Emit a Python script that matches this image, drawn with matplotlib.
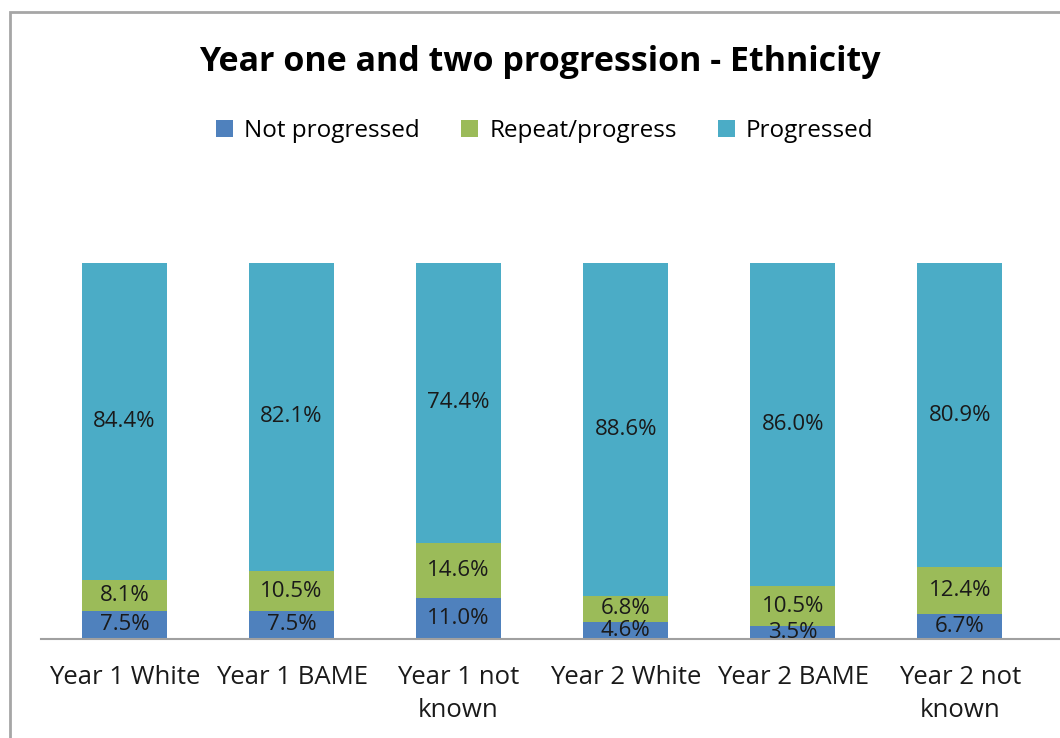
import matplotlib
matplotlib.use("Agg")
import matplotlib.pyplot as plt
from matplotlib.patches import Rectangle
import numpy as np

categories = ["Year 1 White", "Year 1 BAME", "Year 1 not\nknown",
              "Year 2 White", "Year 2 BAME", "Year 2 not\nknown"]
not_progressed = [7.5, 7.5, 11.0, 4.6, 3.5, 6.7]
repeat_progress = [8.1, 10.5, 14.6, 6.8, 10.5, 12.4]
progressed = [84.4, 82.1, 74.4, 88.6, 86.0, 80.9]

series = [
    ("Not progressed", not_progressed, "#4F81BD"),
    ("Repeat/progress", repeat_progress, "#9BBB59"),
    ("Progressed", progressed, "#4BACC6"),
]

plt.rcParams["font.family"] = ["Open Sans", "DejaVu Sans"]

fig = plt.figure(figsize=(10.6, 7.38), dpi=100)
W, H = 1060, 738
ax = fig.add_axes([41 / W, 1 - 639 / H, (1060 - 41) / W, (639 - 263) / H])

x = np.arange(len(categories))
bottom = np.zeros(len(categories))
for name, vals, color in series:
    vals = np.array(vals)
    ax.bar(x, vals, 0.51, bottom=bottom, color=color, label=name)
    for xi, b, v in zip(x, bottom, vals):
        ax.text(xi, b + v / 2, f"{v:.1f}%", ha="center", va="center",
                fontsize=16, color="#1a1a1a")
    bottom += vals

ax.set_xlim(-0.5, 5.6)
ax.set_ylim(0, 100)
ax.set_yticks([])
ax.set_xticks(x)
ax.set_xticklabels(categories, fontsize=18.5, color="#1a1a1a", linespacing=1.4)
ax.tick_params(axis="x", length=0, pad=19)
for s in ["top", "right", "left"]:
    ax.spines[s].set_visible(False)
ax.spines["bottom"].set_color("#a0a0a0")
ax.spines["bottom"].set_linewidth(1.5)

fig.text(540 / W, 1 - 62 / H, "Year one and two progression - Ethnicity",
         ha="center", va="center", fontsize=24.5, fontweight="bold")

fig.legend(loc="center", bbox_to_anchor=(545 / W, 1 - 131 / H), ncol=3,
           frameon=False, fontsize=17.5, handlelength=0.7, handleheight=0.7,
           columnspacing=1.7, handletextpad=0.45)

fig.patches.append(Rectangle((10 / W, -0.1), 1.2, 1 - 12 / H + 0.1,
                             transform=fig.transFigure, fill=False,
                             edgecolor="#a6a6a6", linewidth=2))

fig.savefig("out.png", dpi=100)
